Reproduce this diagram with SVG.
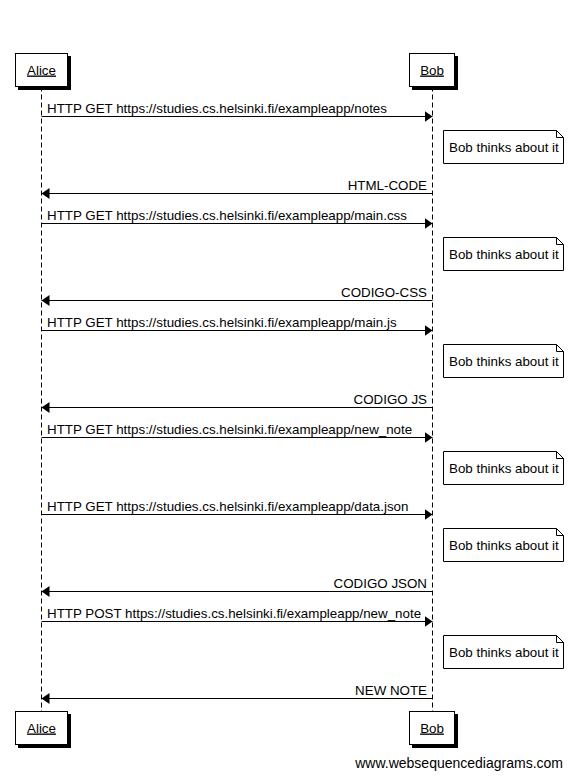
<svg xmlns="http://www.w3.org/2000/svg" width="573" height="779" viewBox="0 0 573 779">
<style>
text{font-family:"Liberation Sans",Arial,sans-serif;font-size:13.35px;fill:#000}
.lbl{text-anchor:middle;text-decoration:underline}
.end{text-anchor:end}
.box{fill:#fff;stroke:#000;stroke-width:1}
.shadow{fill:#000}
.life{stroke:#000;stroke-width:1;stroke-dasharray:5,3;fill:none}
.msg{stroke:#000;stroke-width:1;fill:none;marker-end:url(#ah)}
.note{fill:#fff;stroke:#000;stroke-width:1}
.fold{fill:none;stroke:#000;stroke-width:1}
.foot{font-size:14px;text-anchor:end}
</style>
<defs>
<marker id="ah" markerUnits="userSpaceOnUse" markerWidth="9" markerHeight="12" refX="8" refY="5.5" orient="auto">
<path d="M0,0 L8,5.5 L0,11 Z" fill="#000"/>
</marker>
<g id="notebox">
<path class="note" d="M443.5,0.5 H556.5 L563.5,7.5 V33.5 H443.5 Z"/>
<path class="fold" d="M556.5,0.5 V7.5 H563.5"/>
<text x="449" y="21.5">Bob thinks about it</text>
</g>
</defs>
<rect width="573" height="779" fill="#fff"/>
<g id="lifelines">
<line class="life" x1="41.5" y1="86.5" x2="41.5" y2="711.5"/>
<line class="life" x1="432.5" y1="86.5" x2="432.5" y2="711.5"/>
</g>
<g id="alice-top">
<rect class="shadow" x="18" y="56" width="53" height="34"/>
<rect class="box" x="15.5" y="53.5" width="52" height="33"/>
<text class="lbl" x="41.5" y="74.5">Alice</text>
</g>
<g id="bob-top">
<rect class="shadow" x="412" y="56" width="46" height="34"/>
<rect class="box" x="409.5" y="53.5" width="45" height="33"/>
<text class="lbl" x="432" y="74.5">Bob</text>
</g>
<g id="alice-bottom">
<rect class="shadow" x="18" y="714" width="53" height="34"/>
<rect class="box" x="15.5" y="711.5" width="52" height="33"/>
<text class="lbl" x="41.5" y="732.5">Alice</text>
</g>
<g id="bob-bottom">
<rect class="shadow" x="412" y="714" width="46" height="34"/>
<rect class="box" x="409.5" y="711.5" width="45" height="33"/>
<text class="lbl" x="432" y="732.5">Bob</text>
</g>
<g id="connectors">
<line class="msg" x1="41.5" y1="116.5" x2="432.5" y2="116.5"/>
<text x="47" y="112.5">HTTP GET https://studies.cs.helsinki.fi/exampleapp/notes</text>
<line class="msg" x1="432.5" y1="193.5" x2="41.5" y2="193.5"/>
<text class="end" x="427" y="189.5">HTML-CODE</text>
<line class="msg" x1="41.5" y1="223.5" x2="432.5" y2="223.5"/>
<text x="47" y="219.5">HTTP GET https://studies.cs.helsinki.fi/exampleapp/main.css</text>
<line class="msg" x1="432.5" y1="300.5" x2="41.5" y2="300.5"/>
<text class="end" x="427" y="296.5">CODIGO-CSS</text>
<line class="msg" x1="41.5" y1="330.5" x2="432.5" y2="330.5"/>
<text x="47" y="326.5">HTTP GET https://studies.cs.helsinki.fi/exampleapp/main.js</text>
<line class="msg" x1="432.5" y1="407.5" x2="41.5" y2="407.5"/>
<text class="end" x="427" y="403.5">CODIGO JS</text>
<line class="msg" x1="41.5" y1="437.5" x2="432.5" y2="437.5"/>
<text x="47" y="433.5">HTTP GET https://studies.cs.helsinki.fi/exampleapp/new_note</text>
<line class="msg" x1="41.5" y1="514.5" x2="432.5" y2="514.5"/>
<text x="47" y="510.5">HTTP GET https://studies.cs.helsinki.fi/exampleapp/data.json</text>
<line class="msg" x1="432.5" y1="591.5" x2="41.5" y2="591.5"/>
<text class="end" x="427" y="587.5">CODIGO JSON</text>
<line class="msg" x1="41.5" y1="621.5" x2="432.5" y2="621.5"/>
<text x="47" y="617.5">HTTP POST https://studies.cs.helsinki.fi/exampleapp/new_note</text>
<line class="msg" x1="432.5" y1="698.5" x2="41.5" y2="698.5"/>
<text class="end" x="427" y="694.5">NEW NOTE</text>
</g>
<g id="note1"><use href="#notebox" y="130"/></g>
<g id="note2"><use href="#notebox" y="237"/></g>
<g id="note3"><use href="#notebox" y="344"/></g>
<g id="note4"><use href="#notebox" y="451"/></g>
<g id="note5"><use href="#notebox" y="528"/></g>
<g id="note6"><use href="#notebox" y="635"/></g>
<text class="foot" x="563" y="768">www.websequencediagrams.com</text>
</svg>
